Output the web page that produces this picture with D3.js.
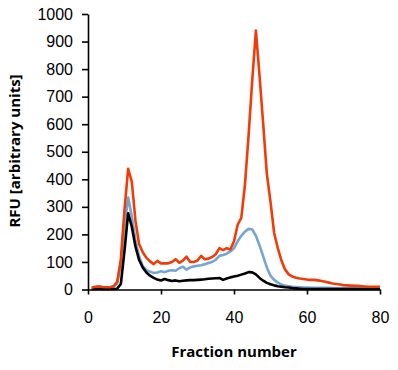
<!DOCTYPE html>
<html>
<head>
<meta charset="utf-8">
<script src="https://cdn.jsdelivr.net/npm/d3@7"></script>
<style>
  body { margin: 0; background: #fff; }
  .axis text { font-family: "Liberation Sans", Arial, sans-serif; font-size: 16px; fill: #000; }
  .axis path, .axis line { stroke: #000; stroke-width: 1.6px; }
  .title { font-family: "Open Sans", sans-serif; font-weight: bold; font-size: 15px; fill: #000; }
</style>
</head>
<body>
<div id="chart"></div>
<script>
// fraction numbers 1..80
var fractions = d3.range(1, 81);

// RFU readings per fraction
var orangeSeries = [6, 10, 12, 9, 8, 8, 12, 28, 110, 290,
  438, 392, 250, 165, 135, 115, 102, 92, 104, 95,
  95, 95, 100, 110, 97, 105, 119, 100, 100, 105,
  122, 110, 112, 118, 128, 150, 143, 150, 145, 175,
  235, 260, 380, 560, 760, 940, 775, 600, 420, 318,
  205, 150, 105, 72, 55, 47, 43, 40, 38, 36,
  35, 35, 33, 31, 28, 25, 22, 20, 18, 16,
  15, 14, 13, 13, 12, 11, 10, 10, 10, 10];

var blueSeries = [4, 5, 6, 5, 5, 6, 10, 22, 90, 230,
  334, 265, 180, 120, 85, 70, 65, 60, 62, 66,
  63, 68, 70, 68, 77, 83, 72, 80, 84, 86,
  88, 92, 96, 100, 108, 122, 125, 130, 138, 150,
  175, 195, 210, 220, 218, 195, 160, 120, 80, 50,
  35, 25, 18, 14, 12, 10, 9, 8, 7, 7,
  6, 6, 6, 6, 6, 6, 5, 5, 5, 5,
  5, 5, 4, 4, 4, 4, 4, 4, 4, 4];

var blackSeries = [2, 2, 2, 2, 2, 2, 2, 3, 20, 140,
  277, 228, 156, 107, 80, 62, 50, 42, 36, 33,
  38, 34, 31, 33, 30, 32, 33, 34, 34, 35,
  36, 37, 39, 40, 41, 42, 35, 40, 44, 47,
  50, 54, 58, 63, 62, 55, 42, 32, 24, 19,
  15, 12, 10, 8, 7, 5, 4, 3, 2, 2,
  2, 2, 2, 2, 2, 2, 2, 2, 2, 2,
  2, 2, 2, 2, 2, 2, 2, 2, 2, 2];

var xTicks = [0, 20, 40, 60, 80];
var yTicks = d3.range(0, 1001, 100);

var W = 398, H = 370;
var margin = { top: 14, right: 18, bottom: 80.5, left: 88 };
var w = W - margin.left - margin.right;
var h = H - margin.top - margin.bottom;

var svg = d3.select("#chart")
    .append("svg")
    .attr("width", W)
    .attr("height", H);

var g = svg.append("g")
    .attr("transform", "translate(" + margin.left + "," + margin.top + ")");

var x = d3.scaleLinear().domain([0, 80]).range([0, w]);
var y = d3.scaleLinear().domain([0, 1000]).range([h, 0]);

// series, drawn in this order
var series = [
    { values: blueSeries, color: "#74a5d3" },
    { values: blackSeries, color: "#000000" },
    { values: orangeSeries, color: "#f23c08" }
];

var line = d3.line()
    .x(function(d) { return x(d[0]); })
    .y(function(d) { return y(d[1]); });

series.forEach(function(s) {
    g.append("path")
        .datum(fractions.map(function(f, i) { return [f, s.values[i]]; }))
        .attr("fill", "none")
        .attr("stroke", s.color)
        .attr("stroke-width", 2.6)
        .attr("stroke-linejoin", "round")
        .attr("d", line);
});

g.append("g")
    .attr("class", "axis")
    .attr("transform", "translate(0," + h + ")")
    .call(d3.axisBottom(x).tickValues(xTicks).tickSize(5).tickSizeOuter(0).tickPadding(17));

g.append("g")
    .attr("class", "axis")
    .call(d3.axisLeft(y).tickValues(yTicks).tickFormat(d3.format("d")).tickSize(6).tickSizeOuter(0).tickPadding(9));

// axis titles
svg.append("text")
    .attr("class", "title")
    .attr("x", margin.left + w / 2)
    .attr("y", 357)
    .attr("text-anchor", "middle")
    .text("Fraction number");

svg.append("text")
    .attr("class", "title")
    .attr("transform", "translate(20," + 151 + ") rotate(-90)")
    .attr("text-anchor", "middle")
    .text("RFU [arbitrary units]");
</script>
</body>
</html>
